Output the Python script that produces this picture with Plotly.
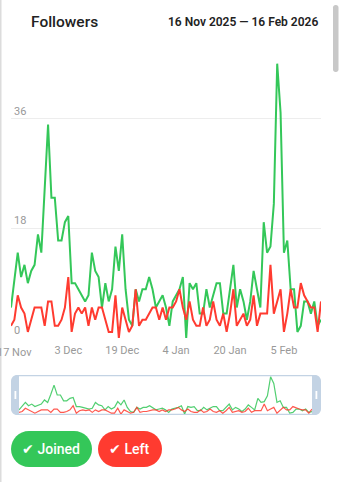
import plotly.graph_objects as go
import pandas as pd

W, H = 339, 482

dates = pd.date_range("2025-11-16", "2026-02-16", freq="D")

joined = [5, 10, 14, 10, 12, 9, 11, 12, 17, 14, 24, 35, 23, 23, 16, 16, 19, 20, 9, 9,
          8, 7, 6, 7, 14, 11, 10, 5, 9, 6, 8, 15, 11, 17, 8, 3, 2, 8, 6, 8,
          8, 10, 8, 5, 6, 7, 5, 2, 6, 7, 8, 10, 0, 9, 8, 9, 4, 4, 8, 5,
          7, 9, 9, 4, 4, 8, 12, 5, 8, 6, 3, 6, 11, 8, 5, 19, 14, 15, 22, 45,
          37, 14, 16, 8, 8, 1, 2, 6, 6, 4, 6, 2, 3]
left = [2, 3, 7, 5, 4, 1, 3, 5, 5, 5, 2, 6, 6, 2, 2, 3, 5, 10, 1, 4,
        5, 4, 5, 2, 5, 3, 5, 5, 3, 1, 1, 7, 0, 5, 3, 1, 2, 8, 2, 3,
        3, 4, 5, 5, 3, 5, 3, 5, 5, 6, 8, 5, 3, 6, 3, 2, 2, 5, 2, 3,
        6, 3, 2, 4, 1, 4, 8, 2, 3, 4, 2, 3, 7, 2, 4, 4, 4, 12, 4, 6,
        8, 1, 4, 8, 5, 5, 9, 7, 6, 5, 5, 1, 6]

tick_dates = ["2025-11-17", "2025-12-03", "2025-12-19", "2026-01-04", "2026-01-20", "2026-02-05"]
tick_text = ["17 Nov", "3 Dec", "19 Dec", "4 Jan", "20 Jan", "5 Feb"]
y_ticks = [0, 18, 36]

GREEN = "#34c759"
RED = "#ff3b30"
FRAME = "#c3d3e4"
TICK_FONT = dict(family="Roboto", size=11, color="#999999")


def px(x):
    return x / W


def py(y):
    return 1 - y / H


def rrect(x0, y0, x1, y1, r):
    k = 0.5523 * r
    pts = [
        ("M", [(x0 + r, y0)]),
        ("L", [(x1 - r, y0)]),
        ("C", [(x1 - r + k, y0), (x1, y0 + r - k), (x1, y0 + r)]),
        ("L", [(x1, y1 - r)]),
        ("C", [(x1, y1 - r + k), (x1 - r + k, y1), (x1 - r, y1)]),
        ("L", [(x0 + r, y1)]),
        ("C", [(x0 + r - k, y1), (x0, y1 - r + k), (x0, y1 - r)]),
        ("L", [(x0, y0 + r)]),
        ("C", [(x0, y0 + r - k), (x0 + r - k, y0), (x0 + r, y0)]),
    ]
    s = ""
    for cmd, pp in pts:
        s += cmd + " ".join(f"{px(a):.5f},{py(b):.5f}" for a, b in pp) + " "
    return s + "Z"


fig = go.Figure()
fig.add_trace(go.Scatter(x=dates, y=joined, mode="lines", line=dict(color=GREEN, width=2),
                         name="Joined", xaxis="x", yaxis="y"))
fig.add_trace(go.Scatter(x=dates, y=left, mode="lines", line=dict(color=RED, width=2),
                         name="Left", xaxis="x", yaxis="y"))
fig.add_trace(go.Scatter(x=dates, y=joined, mode="lines", line=dict(color=GREEN, width=1.2),
                         opacity=0.85, xaxis="x2", yaxis="y2"))
fig.add_trace(go.Scatter(x=dates, y=left, mode="lines", line=dict(color=RED, width=1.2),
                         opacity=0.85, xaxis="x2", yaxis="y2"))

shapes = []
# left page border and scrollbar
shapes.append(dict(type="rect", xref="paper", yref="paper", x0=0, x1=px(1.5), y0=0, y1=1,
                   fillcolor="#dcdcdc", line=dict(width=0), layer="below"))
shapes.append(dict(type="path", xref="paper", yref="paper", path=rrect(333, 5, 338.5, 72, 2.5),
                   fillcolor="#c8c8c8", line=dict(width=0), layer="below"))
# mini-map frame
shapes.append(dict(type="path", xref="paper", yref="paper", path=rrect(11, 375, 321, 415, 6),
                   fillcolor=FRAME, line=dict(width=0), layer="below"))
shapes.append(dict(type="rect", xref="paper", yref="paper", x0=px(19), x1=px(312), y0=py(413.8), y1=py(376.2),
                   fillcolor="white", line=dict(width=0), layer="below"))
for hx in (14.5, 315.5):
    shapes.append(dict(type="rect", xref="paper", yref="paper", x0=px(hx), x1=px(hx + 1.8), y0=py(399), y1=py(391),
                       fillcolor="white", line=dict(width=0), layer="above"))
# buttons
shapes.append(dict(type="path", xref="paper", yref="paper", path=rrect(11, 431, 92, 467, 18),
                   fillcolor=GREEN, line=dict(width=0), layer="above"))
shapes.append(dict(type="path", xref="paper", yref="paper", path=rrect(98, 431, 162, 467, 18),
                   fillcolor=RED, line=dict(width=0), layer="above"))

annotations = [
    dict(x=px(29), y=py(22), xref="paper", yref="paper", text="Followers", showarrow=False,
         xanchor="left", yanchor="middle", font=dict(family="Roboto", size=15.5, color="#222222", weight=500)),
    dict(x=px(320), y=py(22), xref="paper", yref="paper", text="16 Nov 2025 — 16 Feb 2026", showarrow=False,
         xanchor="right", yanchor="middle", font=dict(family="Roboto", size=12, color="#222222", weight=600)),
    dict(x=px(51), y=py(449), xref="paper", yref="paper", text="✔ Joined", showarrow=False,
         xanchor="center", yanchor="middle", font=dict(family="Roboto", size=14, color="white", weight=500)),
    dict(x=px(129), y=py(449), xref="paper", yref="paper", text="✔ Left", showarrow=False,
         xanchor="center", yanchor="middle", font=dict(family="Roboto", size=14, color="white", weight=500)),
    # first x tick label, which hangs past the left edge of the page
    dict(x=tick_dates[0], y=py(352), xref="x", yref="paper", text=tick_text[0], showarrow=False,
         xanchor="center", yanchor="middle", font=TICK_FONT),
]

fig.update_layout(
    width=W, height=H,
    margin=dict(l=0, r=0, t=0, b=0, autoexpand=False),
    paper_bgcolor="white",
    plot_bgcolor="rgba(0,0,0,0)",
    showlegend=False,
    shapes=shapes,
    annotations=annotations,
    xaxis=dict(domain=[px(11), px(321)], range=[dates[0], dates[-1]], tickvals=tick_dates[1:], ticktext=tick_text[1:],
               showgrid=False, zeroline=False, showline=False, ticks="", ticklabelstandoff=4,
               automargin=False, tickfont=TICK_FONT, anchor="y"),
    yaxis=dict(domain=[py(338), py(60)], range=[0, 45.6], tickvals=y_ticks,
               showgrid=True, gridcolor="#ededed", gridwidth=1, zeroline=False, showline=False,
               ticklabelposition="inside top", tickfont=TICK_FONT, anchor="x"),
    xaxis2=dict(domain=[px(19), px(312)], range=[dates[0], dates[-1]], visible=False, anchor="y2"),
    yaxis2=dict(domain=[py(414), py(376)], range=[0, 46], visible=False, anchor="x2"),
)

fig.write_html("out.html", config={"displayModeBar": False})
